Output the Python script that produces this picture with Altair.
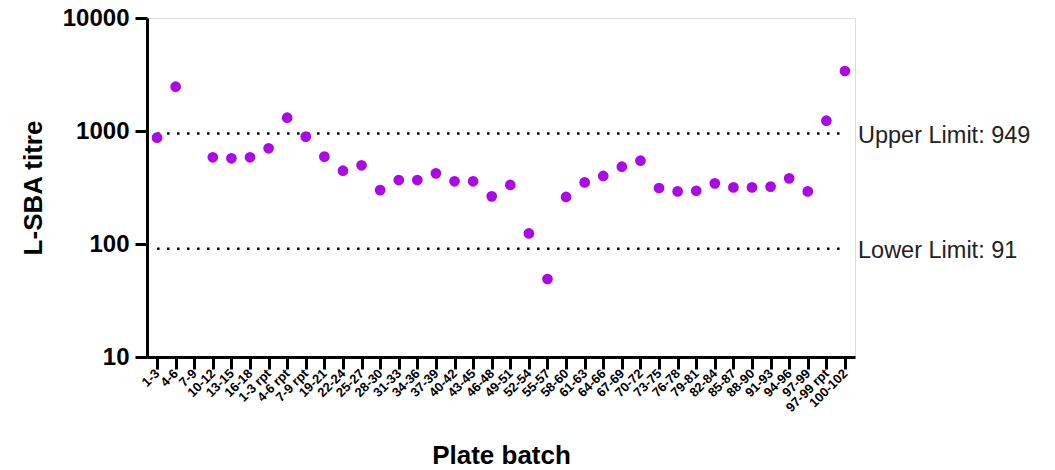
import altair as alt
import pandas as pd

batches = ["1-3", "4-6", "7-9", "10-12", "13-15", "16-18", "1-3 rpt", "4-6 rpt", "7-9 rpt",
           "19-21", "22-24", "25-27", "28-30", "31-33", "34-36", "37-39", "40-42", "43-45",
           "46-48", "49-51", "52-54", "55-57", "58-60", "61-63", "64-66", "67-69", "70-72",
           "73-75", "76-78", "79-81", "82-84", "85-87", "88-90", "91-93", "94-96", "97-99",
           "97-99 rpt", "100-102"]
titres = [873, 2466, None, 585, 573, 585, 703, 1312, 891,
          593, 445, 497, 300, 368, 368, 422, 359, 359,
          264, 333, 124, 49, 261, 351, 400, 483, 546,
          313, 292, 296, 344, 317, 317, 322, 381, 292,
          1234, 3396]

limit_values = [949, 91]
limit_labels = ["Upper Limit: 949", "Lower Limit: 91"]

df = pd.DataFrame({"batch": batches, "titre": titres})
lim = pd.DataFrame({"value": limit_values, "label": limit_labels,
                    "start": [batches[0]] * 2, "end": [batches[-1]] * 2})

xscale = alt.Scale(type="point", domain=batches, padding=0.54)
yscale = alt.Scale(type="log", domain=[10, 10000], nice=False)

FONT = "Liberation Sans"

points = alt.Chart(df).mark_circle(size=115, color="#AA08E6", opacity=1).encode(
    x=alt.X("batch:N", scale=xscale, sort=batches,
            axis=alt.Axis(title="Plate batch", labelAngle=-45, labelAlign="right",
                          labelBaseline="middle", labelFontSize=13, labelFontWeight="bold",
                          labelFont=FONT, labelColor="black", labelPadding=2,
                          tickSize=12, tickWidth=3, tickColor="black",
                          domainWidth=3, domainColor="black",
                          titleFont=FONT, titleFontSize=26, titleFontWeight="bold",
                          titleColor="black", titlePadding=28, grid=False,
                          labelOverlap=False)),
    y=alt.Y("titre:Q", scale=yscale,
            axis=alt.Axis(title="L-SBA titre", values=[10, 100, 1000, 10000], format="d",
                          labelFontSize=24, labelFontWeight="bold", labelFont=FONT,
                          labelColor="black", labelPadding=6,
                          tickSize=12, tickWidth=3, tickColor="black",
                          domainWidth=3, domainColor="black",
                          titleFont=FONT, titleFontSize=26, titleFontWeight="bold",
                          titleColor="black", titlePadding=16, grid=False)),
)

rules = alt.Chart(lim).mark_rule(color="black", strokeWidth=2.5, strokeDash=[2.5, 7.5]).encode(
    x=alt.X("start:N", scale=xscale, sort=batches),
    x2="end:N",
    y=alt.Y("value:Q", scale=yscale),
)

texts = alt.Chart(lim).mark_text(align="left", baseline="middle", font=FONT, fontSize=23.5,
                                 color="#222222", dy=2).encode(
    x=alt.value(711),
    y=alt.Y("value:Q", scale=yscale),
    text="label:N",
)

chart = alt.layer(rules, points, texts).properties(
    width=708, height=339,
    autosize=alt.AutoSizeParams(type="none"),
    padding={"left": 147, "top": 18, "right": 200, "bottom": 113},
).configure_view(stroke=None).configure(background="white")

chart.save("out.html", embed_options={"renderer": "svg", "actions": False})
